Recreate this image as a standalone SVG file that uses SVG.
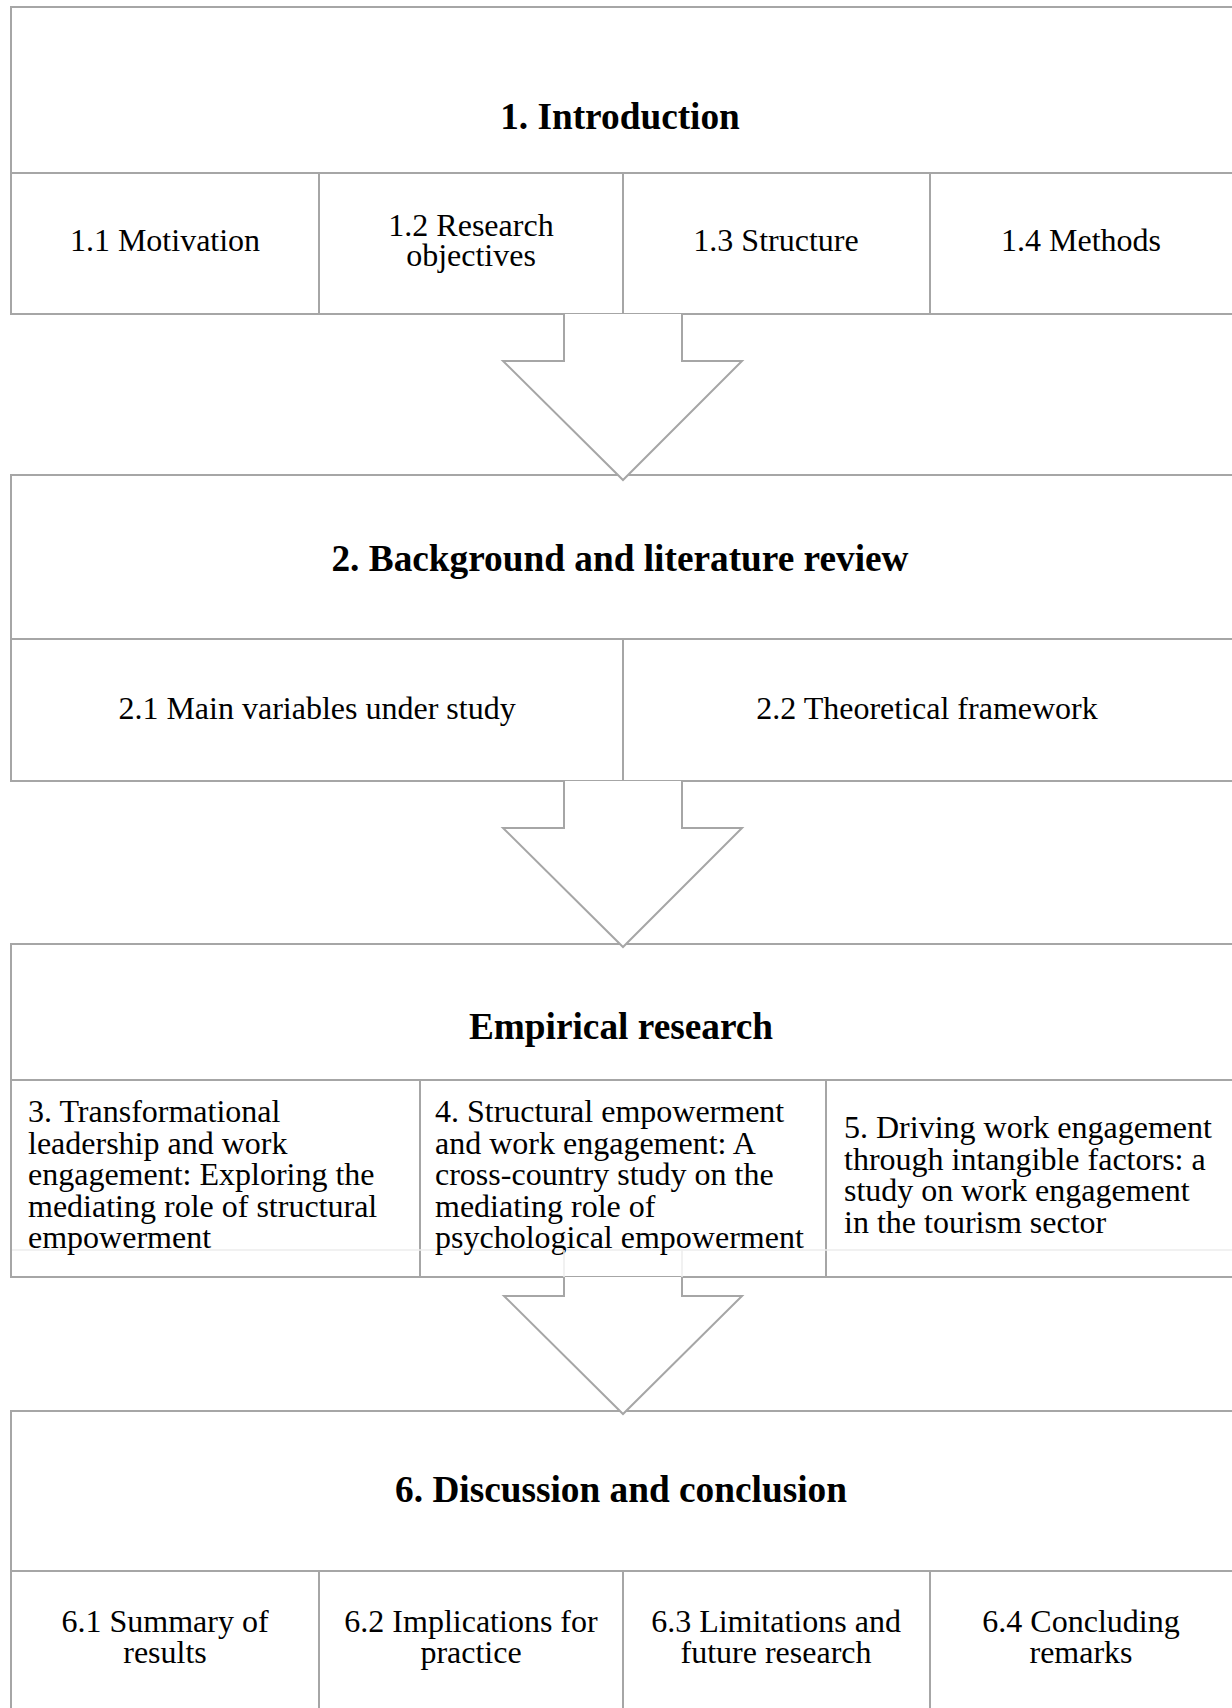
<svg xmlns="http://www.w3.org/2000/svg" width="1232" height="1708" viewBox="0 0 1232 1708">
<style>
.box{fill:#ffffff;stroke:#a6a6a6;stroke-width:2}
.ln{stroke:#a6a6a6;stroke-width:2;fill:none}
.faint{stroke:#ececec;stroke-width:1.5;fill:none}
.arr{fill:#ffffff;stroke:#a6a6a6;stroke-width:2;stroke-linejoin:miter}
.h{font-family:"Liberation Serif","Times New Roman",serif;font-weight:bold;font-size:37.3px;fill:#000;text-anchor:middle}
.t{font-family:"Liberation Serif","Times New Roman",serif;font-size:32px;fill:#000;text-anchor:middle}
.tl{font-family:"Liberation Serif","Times New Roman",serif;font-size:32px;fill:#000}
</style>
<rect width="1232" height="1708" fill="#ffffff"/>

<g id="introduction">
<rect class="box" x="11" y="7" width="1240" height="307"/>
<line class="ln" x1="11" y1="173" x2="1251" y2="173"/>
<line class="ln" x1="319" y1="173" x2="319" y2="314"/>
<line class="ln" x1="623" y1="173" x2="623" y2="314"/>
<line class="ln" x1="930" y1="173" x2="930" y2="314"/>
<text class="h" x="620" y="129">1. Introduction</text>
<text class="t" x="165" y="251">1.1 Motivation</text>
<text class="t" x="471" y="236">1.2 Research</text>
<text class="t" x="471" y="266">objectives</text>
<text class="t" x="776" y="251">1.3 Structure</text>
<text class="t" x="1081" y="251">1.4 Methods</text>
</g>

<g id="background">
<rect class="box" x="11" y="475" width="1240" height="306"/>
<line class="ln" x1="11" y1="639" x2="1251" y2="639"/>
<line class="ln" x1="623" y1="639" x2="623" y2="781"/>
<text class="h" x="620" y="571">2. Background and literature review</text>
<text class="t" x="317" y="719">2.1 Main variables under study</text>
<text class="t" x="927" y="719">2.2 Theoretical framework</text>
</g>

<g id="empirical">
<rect class="box" x="11" y="944" width="1240" height="333"/>
<line class="ln" x1="11" y1="1080" x2="1251" y2="1080"/>
<line class="ln" x1="420" y1="1080" x2="420" y2="1277"/>
<line class="ln" x1="826" y1="1080" x2="826" y2="1277"/>
<line class="faint" x1="12" y1="1250" x2="1232" y2="1250"/>
<text class="h" x="621" y="1039">Empirical research</text>
<text class="tl" x="28" y="1122">3. Transformational</text>
<text class="tl" x="28" y="1153.5">leadership and work</text>
<text class="tl" x="28" y="1185">engagement: Exploring the</text>
<text class="tl" x="28" y="1216.5">mediating role of structural</text>
<text class="tl" x="28" y="1248">empowerment</text>
<text class="tl" x="435" y="1122">4. Structural empowerment</text>
<text class="tl" x="435" y="1153.5">and work engagement: A</text>
<text class="tl" x="435" y="1185">cross-country study on the</text>
<text class="tl" x="435" y="1216.5">mediating role of</text>
<text class="tl" x="435" y="1248">psychological empowerment</text>
<text class="tl" x="844" y="1138">5. Driving work engagement</text>
<text class="tl" x="844" y="1169.5">through intangible factors: a</text>
<text class="tl" x="844" y="1201">study on work engagement</text>
<text class="tl" x="844" y="1232.5">in the tourism sector</text>
</g>

<g id="discussion">
<rect class="box" x="11" y="1411" width="1240" height="320"/>
<line class="ln" x1="11" y1="1571" x2="1251" y2="1571"/>
<line class="ln" x1="319" y1="1571" x2="319" y2="1731"/>
<line class="ln" x1="623" y1="1571" x2="623" y2="1731"/>
<line class="ln" x1="930" y1="1571" x2="930" y2="1731"/>
<text class="h" x="621" y="1502">6. Discussion and conclusion</text>
<text class="t" x="165" y="1632">6.1 Summary of</text>
<text class="t" x="165" y="1663">results</text>
<text class="t" x="471" y="1632">6.2 Implications for</text>
<text class="t" x="471" y="1663">practice</text>
<text class="t" x="776" y="1632">6.3 Limitations and</text>
<text class="t" x="776" y="1663">future research</text>
<text class="t" x="1081" y="1632">6.4 Concluding</text>
<text class="t" x="1081" y="1663">remarks</text>
</g>

<g id="connectors">
<path class="arr" d="M564,314 L564,361 L503,361 L623,480 L742,361 L682,361 L682,314"/>
<path class="arr" d="M564,781 L564,828 L503,828 L623,947 L742,828 L682,828 L682,781"/>
<line class="faint" x1="564" y1="1250" x2="564" y2="1277"/>
<line class="faint" x1="682" y1="1250" x2="682" y2="1277"/>
<path class="arr" d="M564,1277 L564,1296 L504,1296 L623,1414 L742,1296 L682,1296 L682,1277"/>
</g>
</svg>
